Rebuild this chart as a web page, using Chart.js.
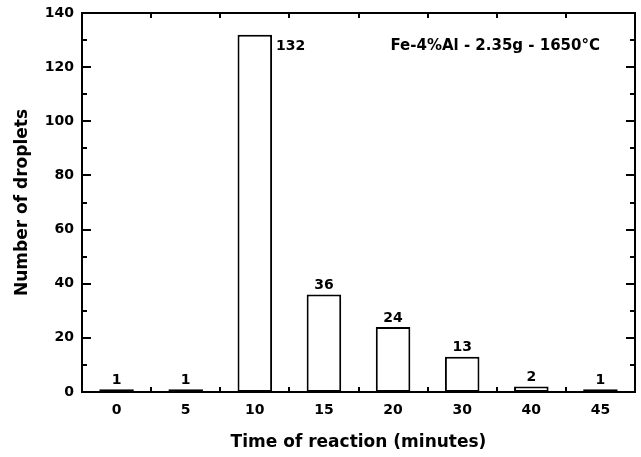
<!DOCTYPE html>
<html>
<head>
<meta charset="utf-8">
<script src="https://cdn.jsdelivr.net/npm/chart.js@4/dist/chart.umd.min.js"></script>
<style>
  html, body { margin: 0; padding: 0; background: #fff; }
  #wrap { width: 641px; height: 457px; }
</style>
</head>
<body>
<div id="wrap"><canvas id="dropChart" width="641" height="457"></canvas></div>
<script>
// data
const times = ['0', '5', '10', '15', '20', '30', '40', '45'];
const droplets = [1, 1, 132, 36, 24, 13, 2, 1];
const yMajorTicks = [0, 20, 40, 60, 80, 100, 120, 140];
const yMinorTicks = [10, 30, 50, 70, 90, 110, 130];
const noteText = 'Fe-4%Al - 2.35g - 1650°C';

const FONT = '"DejaVu Sans", Verdana, sans-serif';

// inward tick marks on all four sides + bar value labels + note
const decorations = {
  id: 'decorations',
  afterDatasetsDraw(chart) {
    const { ctx, chartArea: a, scales } = chart;
    const y = scales.y, x = scales.x;
    ctx.save();
    ctx.strokeStyle = '#000';
    ctx.lineWidth = 2;
    ctx.beginPath();
    yMajorTicks.forEach(v => {
      const py = Math.round(y.getPixelForValue(v));
      ctx.moveTo(a.left, py); ctx.lineTo(a.left + 9, py);
      ctx.moveTo(a.right, py); ctx.lineTo(a.right - 9, py);
    });
    yMinorTicks.forEach(v => {
      const py = Math.round(y.getPixelForValue(v));
      ctx.moveTo(a.left, py); ctx.lineTo(a.left + 5, py);
      ctx.moveTo(a.right, py); ctx.lineTo(a.right - 5, py);
    });
    for (let i = 1; i < times.length; i++) {
      const px = Math.round((x.getPixelForValue(i - 1) + x.getPixelForValue(i)) / 2);
      ctx.moveTo(px, a.bottom); ctx.lineTo(px, a.bottom - 5);
      ctx.moveTo(px, a.top); ctx.lineTo(px, a.top + 5);
    }
    ctx.stroke();

    // value labels
    ctx.fillStyle = '#000';
    ctx.font = 'bold 14px ' + FONT;
    const meta = chart.getDatasetMeta(0);
    meta.data.forEach((bar, i) => {
      const v = droplets[i];
      if (bar.y - a.top < 25) {
        ctx.textAlign = 'left';
        ctx.textBaseline = 'middle';
        ctx.fillText(String(v), bar.x + bar.width / 2 + 4, bar.y + 12);
      } else {
        ctx.textAlign = 'center';
        ctx.textBaseline = 'bottom';
        ctx.fillText(String(v), bar.x, bar.y - 2);
      }
    });

    // note in the top right
    ctx.font = 'bold 15px ' + FONT;
    ctx.textAlign = 'right';
    ctx.textBaseline = 'middle';
    ctx.fillText(noteText, a.right - 35, a.top + 33);
    ctx.restore();
  }
};

new Chart(document.getElementById('dropChart'), {
  type: 'bar',
  data: {
    labels: times,
    datasets: [{
      data: droplets,
      backgroundColor: '#fff',
      borderColor: '#000',
      borderWidth: 2,
      borderSkipped: false,
      barPercentage: 0.5,
      categoryPercentage: 1.0
    }]
  },
  options: {
    responsive: false,
    animation: false,
    devicePixelRatio: 1,
    layout: { padding: { top: 13, right: 6, left: 0, bottom: 0 } },
    plugins: { legend: { display: false }, tooltip: { enabled: false } },
    scales: {
      x: {
        offset: true,
        grid: { display: false, drawTicks: false },
        border: { color: '#000', width: 2 },
        ticks: { color: '#000', font: { family: FONT, size: 14, weight: 'bold' }, padding: 10 },
        title: {
          display: true, text: 'Time of reaction (minutes)', color: '#000',
          font: { family: FONT, size: 17, weight: 'bold' }, padding: { top: 4, bottom: 4 }
        },
        afterFit: s => { s.height = 65; s.paddingLeft = 0; s.paddingRight = 0; }
      },
      y: {
        min: 0, max: 140,
        grid: { display: false, drawTicks: false },
        border: { color: '#000', width: 2 },
        ticks: { stepSize: 20, color: '#000', font: { family: FONT, size: 14, weight: 'bold' }, padding: 8 },
        title: {
          display: true, text: 'Number of droplets', color: '#000',
          font: { family: FONT, size: 17, weight: 'bold' }, padding: { top: 12, bottom: 4 }
        },
        afterFit: s => { s.width = 82; s.paddingTop = 0; s.paddingBottom = 0; }
      },
      x2: {
        position: 'top', display: true,
        grid: { display: false, drawTicks: false }, ticks: { display: false },
        border: { color: '#000', width: 2 },
        afterFit: s => { s.height = 0; }
      },
      y2: {
        position: 'right', display: true,
        grid: { display: false, drawTicks: false }, ticks: { display: false },
        border: { color: '#000', width: 2 },
        afterFit: s => { s.width = 0; }
      }
    }
  },
  plugins: [decorations]
});
</script>
</body>
</html>
